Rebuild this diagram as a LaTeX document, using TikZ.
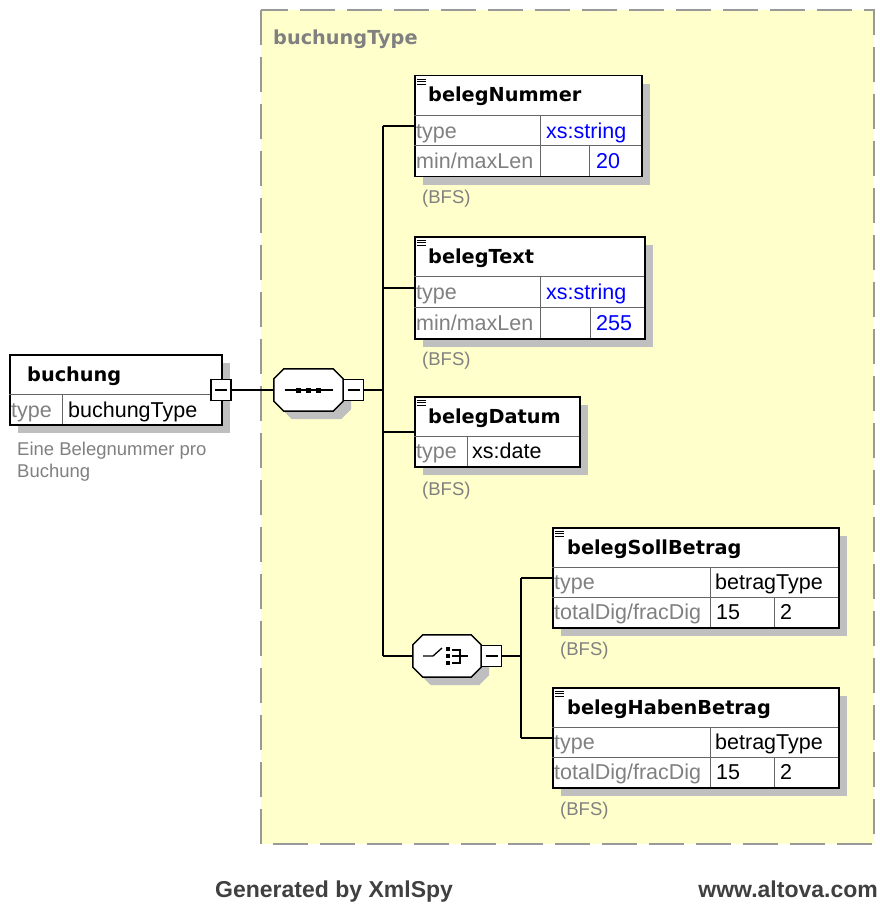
\documentclass[tikz,border=0pt]{standalone}
\usepackage{fontspec}
\setmainfont{Liberation Sans}
\newfontfamily\hdfont{DejaVu Sans}
\usetikzlibrary{shadows}

\definecolor{typeyellow}{HTML}{FFFFCC}
\tikzset{
  boxshadow/.style={drop shadow={shadow xshift=8pt, shadow yshift=-8pt, fill=black!25, opacity=1}},
  elem/.style={draw, line width=1.5pt, fill=white, anchor=north west, inner sep=0pt, boxshadow},
  childelem/.style={elem, path picture={
      \foreach \k in {3.5,6,8.5}
        \draw[line width=1pt] ([shift={(2pt,-\k pt)}]path picture bounding box.north west) -- ++(9pt,0pt);}},
  cell/.style={draw=black!60, line width=1pt},
  link/.style={draw, line width=1.5pt},
  elname/.style={anchor=base west, inner sep=0pt, font=\hdfont\bfseries\fontsize{19.3}{20}\selectfont},
  proplabel/.style={anchor=base west, inner sep=0pt, text=black!50, font=\fontsize{21.5}{22}\selectfont},
  propval/.style={proplabel, text=black},
  facetval/.style={proplabel, text=blue},
  bfsnote/.style={anchor=base west, inner sep=0pt, text=black!50, font=\fontsize{18.5}{19}\selectfont},
  minusbox/.style={draw, line width=1.3pt, fill=white, minimum width=20pt, minimum height=21pt, inner sep=0pt,
    path picture={\draw[line width=1.3pt] ([xshift=-6pt]path picture bounding box.center) -- ([xshift=6pt]path picture bounding box.center);}},
  compbase/.style={minimum width=69pt, minimum height=42pt, inner sep=0pt},
  compline/.style={draw, line width=1.5pt, fill=white, line join=miter, boxshadow},
  typearea/.style={fill=typeyellow, draw=black!40, line width=2pt, dash pattern=on 35pt off 12pt},
  footer/.style={inner sep=0pt, text=black!75, font=\bfseries\fontsize{23}{24}\selectfont}
}

\begin{document}
\begin{tikzpicture}[x=1pt,y=-1pt]
  \useasboundingbox (0,0) rectangle (879,904);

  % complex type buchungType
  \draw[typearea] (261,10) rectangle (874,844);
  \node[elname, text=black!50] (typename) at (273,45) {buchungType};

  % root element
  \node[elem, minimum width=212pt, minimum height=70pt] (buchung) at (9,354) {};
  \draw[cell] (9,394) -- (221,394);
  \draw[cell] (62,394) -- (62,424);
  \node[elname] (buchungname) at (27,381) {buchung};
  \node[proplabel] (buchungtype) at (11,417) {type};
  \node[propval] (buchungtypeval) at (68,417) {buchungType};
  \node[bfsnote] (buchungdoc1) at (17,455) {Eine Belegnummer pro};
  \node[bfsnote] (buchungdoc2) at (17,477) {Buchung};
  \node[minusbox] (buchminus) at (221,390) {};

  % sequence
  \node[compbase] (seq) at (308.5,390) {};
  \draw[compline] ([xshift=10pt]seq.north west) -- ([xshift=-10pt]seq.north east)
    -- ([yshift=-10pt]seq.north east) -- ([yshift=10pt]seq.south east)
    -- ([xshift=-10pt]seq.south east) -- ([xshift=10pt]seq.south west)
    -- ([yshift=10pt]seq.south west) -- ([yshift=-10pt]seq.north west) -- cycle;
  \node[minusbox] (seqminus) at (353.5,390) {};
  \begin{scope}[shift={(seq.center)}]
    \draw[line width=1.3pt] (-24,0) -- (24,0);
    \foreach \dx in {-10,0,10}
      \fill (\dx-2.5,-2.5) rectangle ++(5,5);
  \end{scope}

  % belegNummer
  \node[childelem, minimum width=227pt, minimum height=101pt] (bnummer) at (414,75) {};
  \draw[cell] (414,116) -- (641,116);
  \draw[cell] (414,146) -- (641,146);
  \draw[cell] (540,116) -- (540,176);
  \draw[cell] (589,146) -- (589,176);
  \node[elname] (bnummername) at (428,102) {belegNummer};
  \node[proplabel] at (416,138.5) {type};
  \node[facetval] at (546,138.5) {xs:string};
  \node[proplabel] at (416,168.5) {min/maxLen};
  \node[facetval] at (596,168.5) {20};
  \node[bfsnote] (bnummerbfs) at (422,204) {(BFS)};

  % belegText
  \node[childelem, minimum width=230pt, minimum height=102pt] (btext) at (414,236) {};
  \draw[cell] (414,276) -- (644,276);
  \draw[cell] (414,307) -- (644,307);
  \draw[cell] (540,276) -- (540,338);
  \draw[cell] (590,307) -- (590,338);
  \node[elname] (btextname) at (428,263) {belegText};
  \node[proplabel] at (416,299.5) {type};
  \node[facetval] at (546,299.5) {xs:string};
  \node[proplabel] at (416,330) {min/maxLen};
  \node[facetval] at (596,330) {255};
  \node[bfsnote] (btextbfs) at (422,365) {(BFS)};

  % belegDatum
  \node[childelem, minimum width=165pt, minimum height=70pt] (bdatum) at (414,396) {};
  \draw[cell] (414,436) -- (579,436);
  \draw[cell] (467,436) -- (467,466);
  \node[elname] (bdatumname) at (428,423) {belegDatum};
  \node[proplabel] at (416,458.5) {type};
  \node[propval] at (472,458.5) {xs:date};
  \node[bfsnote] (bdatumbfs) at (422,495) {(BFS)};

  % choice
  \node[compbase, minimum width=68pt] (choice) at (447,656) {};
  \draw[compline] ([xshift=10pt]choice.north west) -- ([xshift=-10pt]choice.north east)
    -- ([yshift=-10pt]choice.north east) -- ([yshift=10pt]choice.south east)
    -- ([xshift=-10pt]choice.south east) -- ([xshift=10pt]choice.south west)
    -- ([yshift=10pt]choice.south west) -- ([yshift=-10pt]choice.north west) -- cycle;
  \node[minusbox] (choiceminus) at (491.5,656) {};
  \begin{scope}[shift={(choice.center)}]
    \draw[line width=1.3pt] (-24,0) -- (-14,0) -- (-5,-8);
    \foreach \dy in {-7,0,7}
      \fill (-1,\dy-2) rectangle ++(4,4);
    \draw[line width=1.3pt] (5,-6) -- (13,-6) -- (13,7) -- (5,7);
    \draw[line width=1.3pt] (5,0) -- (21,0);
  \end{scope}

  % belegSollBetrag
  \node[childelem, minimum width=286pt, minimum height=100pt] (bsoll) at (552,527) {};
  \draw[cell] (552,567) -- (838,567);
  \draw[cell] (552,597) -- (838,597);
  \draw[cell] (710,567) -- (710,627);
  \draw[cell] (774,597) -- (774,627);
  \node[elname] (bsollname) at (567,554) {belegSollBetrag};
  \node[proplabel] at (554,589) {type};
  \node[propval] at (715,589) {betragType};
  \node[proplabel] at (554,619) {totalDig/fracDig};
  \node[propval] at (716,619) {15};
  \node[propval] at (780,619) {2};
  \node[bfsnote] (bsollbfs) at (560,655) {(BFS)};

  % belegHabenBetrag
  \node[childelem, minimum width=286pt, minimum height=100pt] (bhaben) at (552,687) {};
  \draw[cell] (552,727) -- (838,727);
  \draw[cell] (552,757) -- (838,757);
  \draw[cell] (710,727) -- (710,787);
  \draw[cell] (774,757) -- (774,787);
  \node[elname] (bhabenname) at (567,714) {belegHabenBetrag};
  \node[proplabel] at (554,749) {type};
  \node[propval] at (715,749) {betragType};
  \node[proplabel] at (554,779) {totalDig/fracDig};
  \node[propval] at (716,779) {15};
  \node[propval] at (780,779) {2};
  \node[bfsnote] (bhabenbfs) at (560,815) {(BFS)};

  % connectors
  \coordinate (seqjoin) at (383,390);
  \coordinate (choicejoin) at (521,656);
  \draw[link] (buchminus.east) -- (seq.west);
  \draw[link] (seqminus.east) -- (seqjoin);
  \draw[link] (seqjoin |- bnummer.west) -- (seqjoin |- choice.west);
  \foreach \el in {bnummer,btext,bdatum,choice}
    \draw[link] (seqjoin |- \el.west) -- (\el.west);
  \draw[link] (choiceminus.east) -- (choicejoin);
  \draw[link] (choicejoin |- bsoll.west) -- (choicejoin |- bhaben.west);
  \foreach \el in {bsoll,bhaben}
    \draw[link] (choicejoin |- \el.west) -- (\el.west);

  % footer
  \node[footer, anchor=base west] (generated) at (215,897) {Generated by XmlSpy};
  \node[footer, anchor=base east] (altova) at (878,897) {www.altova.com};
\end{tikzpicture}
\end{document}
